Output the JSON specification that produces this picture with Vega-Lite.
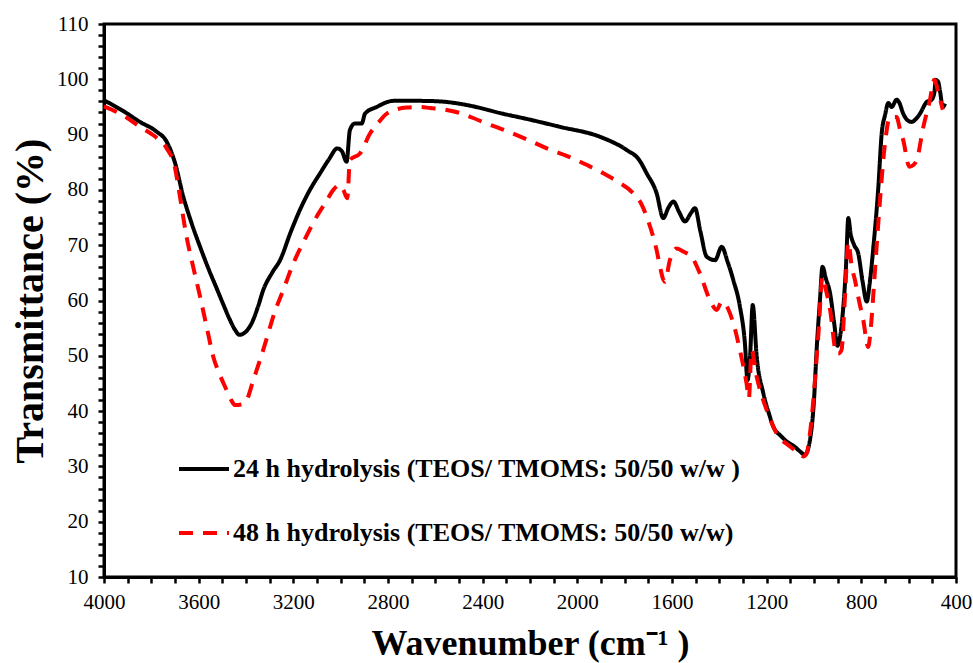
{
  "$schema": "https://vega.github.io/schema/vega-lite/v6.json",
  "width": 852,
  "height": 553,
  "autosize": {"type": "none"},
  "padding": {"left": 104, "top": 24, "right": 17, "bottom": 86},
  "background": "white",
  "config": {
    "font": "Liberation Serif",
    "view": {"stroke": "black", "strokeWidth": 3},
    "legend": {"labelFont": "Liberation Serif", "titleFont": "Liberation Serif"},
    "axis": {"grid": false, "domainColor": "black", "domainWidth": 3, "tickColor": "black", "tickWidth": 2.5, "tickSize": 6, "labelColor": "black", "labelFont": "Liberation Serif", "labelFontSize": 21, "titleFont": "Liberation Serif", "titleFontWeight": "bold", "titleColor": "black", "labelOverlap": false, "labelFlush": false}
  },
  "data": {"values": [
    {"wn": 4000, "t": 96.2, "s": "24 h hydrolysis (TEOS/ TMOMS: 50/50 w/w )"},
    {"wn": 3920, "t": 94.3, "s": "24 h hydrolysis (TEOS/ TMOMS: 50/50 w/w )"},
    {"wn": 3848, "t": 92.3, "s": "24 h hydrolysis (TEOS/ TMOMS: 50/50 w/w )"},
    {"wn": 3780, "t": 90.6, "s": "24 h hydrolysis (TEOS/ TMOMS: 50/50 w/w )"},
    {"wn": 3735, "t": 88.7, "s": "24 h hydrolysis (TEOS/ TMOMS: 50/50 w/w )"},
    {"wn": 3700, "t": 84.9, "s": "24 h hydrolysis (TEOS/ TMOMS: 50/50 w/w )"},
    {"wn": 3665, "t": 78.8, "s": "24 h hydrolysis (TEOS/ TMOMS: 50/50 w/w )"},
    {"wn": 3630, "t": 74.0, "s": "24 h hydrolysis (TEOS/ TMOMS: 50/50 w/w )"},
    {"wn": 3594, "t": 69.7, "s": "24 h hydrolysis (TEOS/ TMOMS: 50/50 w/w )"},
    {"wn": 3560, "t": 65.9, "s": "24 h hydrolysis (TEOS/ TMOMS: 50/50 w/w )"},
    {"wn": 3524, "t": 62.2, "s": "24 h hydrolysis (TEOS/ TMOMS: 50/50 w/w )"},
    {"wn": 3495, "t": 59.2, "s": "24 h hydrolysis (TEOS/ TMOMS: 50/50 w/w )"},
    {"wn": 3468, "t": 56.5, "s": "24 h hydrolysis (TEOS/ TMOMS: 50/50 w/w )"},
    {"wn": 3445, "t": 54.6, "s": "24 h hydrolysis (TEOS/ TMOMS: 50/50 w/w )"},
    {"wn": 3428, "t": 53.8, "s": "24 h hydrolysis (TEOS/ TMOMS: 50/50 w/w )"},
    {"wn": 3405, "t": 54.2, "s": "24 h hydrolysis (TEOS/ TMOMS: 50/50 w/w )"},
    {"wn": 3376, "t": 55.9, "s": "24 h hydrolysis (TEOS/ TMOMS: 50/50 w/w )"},
    {"wn": 3350, "t": 58.8, "s": "24 h hydrolysis (TEOS/ TMOMS: 50/50 w/w )"},
    {"wn": 3327, "t": 61.9, "s": "24 h hydrolysis (TEOS/ TMOMS: 50/50 w/w )"},
    {"wn": 3290, "t": 65.0, "s": "24 h hydrolysis (TEOS/ TMOMS: 50/50 w/w )"},
    {"wn": 3256, "t": 67.3, "s": "24 h hydrolysis (TEOS/ TMOMS: 50/50 w/w )"},
    {"wn": 3210, "t": 72.5, "s": "24 h hydrolysis (TEOS/ TMOMS: 50/50 w/w )"},
    {"wn": 3172, "t": 76.4, "s": "24 h hydrolysis (TEOS/ TMOMS: 50/50 w/w )"},
    {"wn": 3130, "t": 80.0, "s": "24 h hydrolysis (TEOS/ TMOMS: 50/50 w/w )"},
    {"wn": 3087, "t": 83.0, "s": "24 h hydrolysis (TEOS/ TMOMS: 50/50 w/w )"},
    {"wn": 3050, "t": 85.5, "s": "24 h hydrolysis (TEOS/ TMOMS: 50/50 w/w )"},
    {"wn": 3014, "t": 87.5, "s": "24 h hydrolysis (TEOS/ TMOMS: 50/50 w/w )"},
    {"wn": 2995, "t": 87.0, "s": "24 h hydrolysis (TEOS/ TMOMS: 50/50 w/w )"},
    {"wn": 2975, "t": 85.1, "s": "24 h hydrolysis (TEOS/ TMOMS: 50/50 w/w )"},
    {"wn": 2961, "t": 90.8, "s": "24 h hydrolysis (TEOS/ TMOMS: 50/50 w/w )"},
    {"wn": 2940, "t": 92.0, "s": "24 h hydrolysis (TEOS/ TMOMS: 50/50 w/w )"},
    {"wn": 2911, "t": 92.0, "s": "24 h hydrolysis (TEOS/ TMOMS: 50/50 w/w )"},
    {"wn": 2897, "t": 93.8, "s": "24 h hydrolysis (TEOS/ TMOMS: 50/50 w/w )"},
    {"wn": 2848, "t": 95.0, "s": "24 h hydrolysis (TEOS/ TMOMS: 50/50 w/w )"},
    {"wn": 2778, "t": 96.1, "s": "24 h hydrolysis (TEOS/ TMOMS: 50/50 w/w )"},
    {"wn": 2665, "t": 96.1, "s": "24 h hydrolysis (TEOS/ TMOMS: 50/50 w/w )"},
    {"wn": 2580, "t": 96.0, "s": "24 h hydrolysis (TEOS/ TMOMS: 50/50 w/w )"},
    {"wn": 2450, "t": 95.2, "s": "24 h hydrolysis (TEOS/ TMOMS: 50/50 w/w )"},
    {"wn": 2327, "t": 93.9, "s": "24 h hydrolysis (TEOS/ TMOMS: 50/50 w/w )"},
    {"wn": 2200, "t": 92.7, "s": "24 h hydrolysis (TEOS/ TMOMS: 50/50 w/w )"},
    {"wn": 2073, "t": 91.4, "s": "24 h hydrolysis (TEOS/ TMOMS: 50/50 w/w )"},
    {"wn": 1904, "t": 89.6, "s": "24 h hydrolysis (TEOS/ TMOMS: 50/50 w/w )"},
    {"wn": 1791, "t": 87.2, "s": "24 h hydrolysis (TEOS/ TMOMS: 50/50 w/w )"},
    {"wn": 1740, "t": 85.5, "s": "24 h hydrolysis (TEOS/ TMOMS: 50/50 w/w )"},
    {"wn": 1707, "t": 83.0, "s": "24 h hydrolysis (TEOS/ TMOMS: 50/50 w/w )"},
    {"wn": 1665, "t": 79.4, "s": "24 h hydrolysis (TEOS/ TMOMS: 50/50 w/w )"},
    {"wn": 1637, "t": 74.9, "s": "24 h hydrolysis (TEOS/ TMOMS: 50/50 w/w )"},
    {"wn": 1615, "t": 76.8, "s": "24 h hydrolysis (TEOS/ TMOMS: 50/50 w/w )"},
    {"wn": 1594, "t": 77.9, "s": "24 h hydrolysis (TEOS/ TMOMS: 50/50 w/w )"},
    {"wn": 1570, "t": 76.0, "s": "24 h hydrolysis (TEOS/ TMOMS: 50/50 w/w )"},
    {"wn": 1545, "t": 74.3, "s": "24 h hydrolysis (TEOS/ TMOMS: 50/50 w/w )"},
    {"wn": 1520, "t": 75.8, "s": "24 h hydrolysis (TEOS/ TMOMS: 50/50 w/w )"},
    {"wn": 1503, "t": 76.7, "s": "24 h hydrolysis (TEOS/ TMOMS: 50/50 w/w )"},
    {"wn": 1480, "t": 72.5, "s": "24 h hydrolysis (TEOS/ TMOMS: 50/50 w/w )"},
    {"wn": 1453, "t": 67.9, "s": "24 h hydrolysis (TEOS/ TMOMS: 50/50 w/w )"},
    {"wn": 1418, "t": 67.3, "s": "24 h hydrolysis (TEOS/ TMOMS: 50/50 w/w )"},
    {"wn": 1390, "t": 69.7, "s": "24 h hydrolysis (TEOS/ TMOMS: 50/50 w/w )"},
    {"wn": 1365, "t": 67.0, "s": "24 h hydrolysis (TEOS/ TMOMS: 50/50 w/w )"},
    {"wn": 1341, "t": 63.7, "s": "24 h hydrolysis (TEOS/ TMOMS: 50/50 w/w )"},
    {"wn": 1313, "t": 58.9, "s": "24 h hydrolysis (TEOS/ TMOMS: 50/50 w/w )"},
    {"wn": 1292, "t": 52.3, "s": "24 h hydrolysis (TEOS/ TMOMS: 50/50 w/w )"},
    {"wn": 1281, "t": 45.6, "s": "24 h hydrolysis (TEOS/ TMOMS: 50/50 w/w )"},
    {"wn": 1270, "t": 50.0, "s": "24 h hydrolysis (TEOS/ TMOMS: 50/50 w/w )"},
    {"wn": 1259, "t": 59.2, "s": "24 h hydrolysis (TEOS/ TMOMS: 50/50 w/w )"},
    {"wn": 1242, "t": 49.8, "s": "24 h hydrolysis (TEOS/ TMOMS: 50/50 w/w )"},
    {"wn": 1214, "t": 43.2, "s": "24 h hydrolysis (TEOS/ TMOMS: 50/50 w/w )"},
    {"wn": 1190, "t": 39.5, "s": "24 h hydrolysis (TEOS/ TMOMS: 50/50 w/w )"},
    {"wn": 1172, "t": 37.2, "s": "24 h hydrolysis (TEOS/ TMOMS: 50/50 w/w )"},
    {"wn": 1140, "t": 35.5, "s": "24 h hydrolysis (TEOS/ TMOMS: 50/50 w/w )"},
    {"wn": 1115, "t": 34.5, "s": "24 h hydrolysis (TEOS/ TMOMS: 50/50 w/w )"},
    {"wn": 1080, "t": 33.5, "s": "24 h hydrolysis (TEOS/ TMOMS: 50/50 w/w )"},
    {"wn": 1059, "t": 32.7, "s": "24 h hydrolysis (TEOS/ TMOMS: 50/50 w/w )"},
    {"wn": 1038, "t": 32.1, "s": "24 h hydrolysis (TEOS/ TMOMS: 50/50 w/w )"},
    {"wn": 1017, "t": 34.8, "s": "24 h hydrolysis (TEOS/ TMOMS: 50/50 w/w )"},
    {"wn": 1000, "t": 42.0, "s": "24 h hydrolysis (TEOS/ TMOMS: 50/50 w/w )"},
    {"wn": 989, "t": 51.0, "s": "24 h hydrolysis (TEOS/ TMOMS: 50/50 w/w )"},
    {"wn": 975, "t": 60.0, "s": "24 h hydrolysis (TEOS/ TMOMS: 50/50 w/w )"},
    {"wn": 964, "t": 66.1, "s": "24 h hydrolysis (TEOS/ TMOMS: 50/50 w/w )"},
    {"wn": 950, "t": 64.0, "s": "24 h hydrolysis (TEOS/ TMOMS: 50/50 w/w )"},
    {"wn": 932, "t": 61.3, "s": "24 h hydrolysis (TEOS/ TMOMS: 50/50 w/w )"},
    {"wn": 915, "t": 56.0, "s": "24 h hydrolysis (TEOS/ TMOMS: 50/50 w/w )"},
    {"wn": 901, "t": 51.8, "s": "24 h hydrolysis (TEOS/ TMOMS: 50/50 w/w )"},
    {"wn": 888, "t": 54.0, "s": "24 h hydrolysis (TEOS/ TMOMS: 50/50 w/w )"},
    {"wn": 876, "t": 58.9, "s": "24 h hydrolysis (TEOS/ TMOMS: 50/50 w/w )"},
    {"wn": 865, "t": 66.0, "s": "24 h hydrolysis (TEOS/ TMOMS: 50/50 w/w )"},
    {"wn": 855, "t": 74.9, "s": "24 h hydrolysis (TEOS/ TMOMS: 50/50 w/w )"},
    {"wn": 845, "t": 72.0, "s": "24 h hydrolysis (TEOS/ TMOMS: 50/50 w/w )"},
    {"wn": 830, "t": 70.0, "s": "24 h hydrolysis (TEOS/ TMOMS: 50/50 w/w )"},
    {"wn": 813, "t": 68.5, "s": "24 h hydrolysis (TEOS/ TMOMS: 50/50 w/w )"},
    {"wn": 795, "t": 63.5, "s": "24 h hydrolysis (TEOS/ TMOMS: 50/50 w/w )"},
    {"wn": 777, "t": 59.8, "s": "24 h hydrolysis (TEOS/ TMOMS: 50/50 w/w )"},
    {"wn": 765, "t": 63.0, "s": "24 h hydrolysis (TEOS/ TMOMS: 50/50 w/w )"},
    {"wn": 749, "t": 69.7, "s": "24 h hydrolysis (TEOS/ TMOMS: 50/50 w/w )"},
    {"wn": 728, "t": 80.6, "s": "24 h hydrolysis (TEOS/ TMOMS: 50/50 w/w )"},
    {"wn": 714, "t": 90.2, "s": "24 h hydrolysis (TEOS/ TMOMS: 50/50 w/w )"},
    {"wn": 700, "t": 93.5, "s": "24 h hydrolysis (TEOS/ TMOMS: 50/50 w/w )"},
    {"wn": 686, "t": 95.7, "s": "24 h hydrolysis (TEOS/ TMOMS: 50/50 w/w )"},
    {"wn": 672, "t": 95.0, "s": "24 h hydrolysis (TEOS/ TMOMS: 50/50 w/w )"},
    {"wn": 651, "t": 96.3, "s": "24 h hydrolysis (TEOS/ TMOMS: 50/50 w/w )"},
    {"wn": 640, "t": 95.8, "s": "24 h hydrolysis (TEOS/ TMOMS: 50/50 w/w )"},
    {"wn": 623, "t": 93.8, "s": "24 h hydrolysis (TEOS/ TMOMS: 50/50 w/w )"},
    {"wn": 605, "t": 92.6, "s": "24 h hydrolysis (TEOS/ TMOMS: 50/50 w/w )"},
    {"wn": 587, "t": 92.3, "s": "24 h hydrolysis (TEOS/ TMOMS: 50/50 w/w )"},
    {"wn": 570, "t": 92.8, "s": "24 h hydrolysis (TEOS/ TMOMS: 50/50 w/w )"},
    {"wn": 552, "t": 93.8, "s": "24 h hydrolysis (TEOS/ TMOMS: 50/50 w/w )"},
    {"wn": 524, "t": 95.9, "s": "24 h hydrolysis (TEOS/ TMOMS: 50/50 w/w )"},
    {"wn": 503, "t": 96.3, "s": "24 h hydrolysis (TEOS/ TMOMS: 50/50 w/w )"},
    {"wn": 492, "t": 97.5, "s": "24 h hydrolysis (TEOS/ TMOMS: 50/50 w/w )"},
    {"wn": 485, "t": 99.9, "s": "24 h hydrolysis (TEOS/ TMOMS: 50/50 w/w )"},
    {"wn": 475, "t": 99.5, "s": "24 h hydrolysis (TEOS/ TMOMS: 50/50 w/w )"},
    {"wn": 468, "t": 98.0, "s": "24 h hydrolysis (TEOS/ TMOMS: 50/50 w/w )"},
    {"wn": 456, "t": 95.0, "s": "24 h hydrolysis (TEOS/ TMOMS: 50/50 w/w )"},
    {"wn": 446, "t": 95.6, "s": "24 h hydrolysis (TEOS/ TMOMS: 50/50 w/w )"},
    {"wn": 4000, "t": 95.1, "s": "48 h hydrolysis (TEOS/ TMOMS: 50/50 w/w)"},
    {"wn": 3920, "t": 93.5, "s": "48 h hydrolysis (TEOS/ TMOMS: 50/50 w/w)"},
    {"wn": 3848, "t": 91.4, "s": "48 h hydrolysis (TEOS/ TMOMS: 50/50 w/w)"},
    {"wn": 3780, "t": 89.5, "s": "48 h hydrolysis (TEOS/ TMOMS: 50/50 w/w)"},
    {"wn": 3735, "t": 87.5, "s": "48 h hydrolysis (TEOS/ TMOMS: 50/50 w/w)"},
    {"wn": 3700, "t": 84.0, "s": "48 h hydrolysis (TEOS/ TMOMS: 50/50 w/w)"},
    {"wn": 3686, "t": 80.6, "s": "48 h hydrolysis (TEOS/ TMOMS: 50/50 w/w)"},
    {"wn": 3651, "t": 71.5, "s": "48 h hydrolysis (TEOS/ TMOMS: 50/50 w/w)"},
    {"wn": 3620, "t": 65.5, "s": "48 h hydrolysis (TEOS/ TMOMS: 50/50 w/w)"},
    {"wn": 3594, "t": 60.7, "s": "48 h hydrolysis (TEOS/ TMOMS: 50/50 w/w)"},
    {"wn": 3565, "t": 55.0, "s": "48 h hydrolysis (TEOS/ TMOMS: 50/50 w/w)"},
    {"wn": 3538, "t": 49.8, "s": "48 h hydrolysis (TEOS/ TMOMS: 50/50 w/w)"},
    {"wn": 3510, "t": 46.5, "s": "48 h hydrolysis (TEOS/ TMOMS: 50/50 w/w)"},
    {"wn": 3482, "t": 43.8, "s": "48 h hydrolysis (TEOS/ TMOMS: 50/50 w/w)"},
    {"wn": 3460, "t": 41.8, "s": "48 h hydrolysis (TEOS/ TMOMS: 50/50 w/w)"},
    {"wn": 3446, "t": 41.1, "s": "48 h hydrolysis (TEOS/ TMOMS: 50/50 w/w)"},
    {"wn": 3420, "t": 41.2, "s": "48 h hydrolysis (TEOS/ TMOMS: 50/50 w/w)"},
    {"wn": 3397, "t": 42.0, "s": "48 h hydrolysis (TEOS/ TMOMS: 50/50 w/w)"},
    {"wn": 3370, "t": 45.5, "s": "48 h hydrolysis (TEOS/ TMOMS: 50/50 w/w)"},
    {"wn": 3341, "t": 49.2, "s": "48 h hydrolysis (TEOS/ TMOMS: 50/50 w/w)"},
    {"wn": 3310, "t": 53.5, "s": "48 h hydrolysis (TEOS/ TMOMS: 50/50 w/w)"},
    {"wn": 3285, "t": 57.1, "s": "48 h hydrolysis (TEOS/ TMOMS: 50/50 w/w)"},
    {"wn": 3240, "t": 62.2, "s": "48 h hydrolysis (TEOS/ TMOMS: 50/50 w/w)"},
    {"wn": 3200, "t": 66.7, "s": "48 h hydrolysis (TEOS/ TMOMS: 50/50 w/w)"},
    {"wn": 3150, "t": 71.2, "s": "48 h hydrolysis (TEOS/ TMOMS: 50/50 w/w)"},
    {"wn": 3101, "t": 75.2, "s": "48 h hydrolysis (TEOS/ TMOMS: 50/50 w/w)"},
    {"wn": 3060, "t": 78.0, "s": "48 h hydrolysis (TEOS/ TMOMS: 50/50 w/w)"},
    {"wn": 3031, "t": 80.0, "s": "48 h hydrolysis (TEOS/ TMOMS: 50/50 w/w)"},
    {"wn": 3006, "t": 80.9, "s": "48 h hydrolysis (TEOS/ TMOMS: 50/50 w/w)"},
    {"wn": 2989, "t": 80.0, "s": "48 h hydrolysis (TEOS/ TMOMS: 50/50 w/w)"},
    {"wn": 2972, "t": 78.5, "s": "48 h hydrolysis (TEOS/ TMOMS: 50/50 w/w)"},
    {"wn": 2961, "t": 85.4, "s": "48 h hydrolysis (TEOS/ TMOMS: 50/50 w/w)"},
    {"wn": 2918, "t": 86.6, "s": "48 h hydrolysis (TEOS/ TMOMS: 50/50 w/w)"},
    {"wn": 2876, "t": 90.2, "s": "48 h hydrolysis (TEOS/ TMOMS: 50/50 w/w)"},
    {"wn": 2840, "t": 92.2, "s": "48 h hydrolysis (TEOS/ TMOMS: 50/50 w/w)"},
    {"wn": 2805, "t": 93.8, "s": "48 h hydrolysis (TEOS/ TMOMS: 50/50 w/w)"},
    {"wn": 2721, "t": 94.9, "s": "48 h hydrolysis (TEOS/ TMOMS: 50/50 w/w)"},
    {"wn": 2665, "t": 95.0, "s": "48 h hydrolysis (TEOS/ TMOMS: 50/50 w/w)"},
    {"wn": 2622, "t": 94.8, "s": "48 h hydrolysis (TEOS/ TMOMS: 50/50 w/w)"},
    {"wn": 2560, "t": 94.5, "s": "48 h hydrolysis (TEOS/ TMOMS: 50/50 w/w)"},
    {"wn": 2496, "t": 93.9, "s": "48 h hydrolysis (TEOS/ TMOMS: 50/50 w/w)"},
    {"wn": 2440, "t": 93.0, "s": "48 h hydrolysis (TEOS/ TMOMS: 50/50 w/w)"},
    {"wn": 2383, "t": 92.0, "s": "48 h hydrolysis (TEOS/ TMOMS: 50/50 w/w)"},
    {"wn": 2320, "t": 91.0, "s": "48 h hydrolysis (TEOS/ TMOMS: 50/50 w/w)"},
    {"wn": 2256, "t": 89.9, "s": "48 h hydrolysis (TEOS/ TMOMS: 50/50 w/w)"},
    {"wn": 2190, "t": 88.7, "s": "48 h hydrolysis (TEOS/ TMOMS: 50/50 w/w)"},
    {"wn": 2129, "t": 87.5, "s": "48 h hydrolysis (TEOS/ TMOMS: 50/50 w/w)"},
    {"wn": 2060, "t": 86.4, "s": "48 h hydrolysis (TEOS/ TMOMS: 50/50 w/w)"},
    {"wn": 2003, "t": 85.4, "s": "48 h hydrolysis (TEOS/ TMOMS: 50/50 w/w)"},
    {"wn": 1950, "t": 84.3, "s": "48 h hydrolysis (TEOS/ TMOMS: 50/50 w/w)"},
    {"wn": 1890, "t": 83.0, "s": "48 h hydrolysis (TEOS/ TMOMS: 50/50 w/w)"},
    {"wn": 1830, "t": 81.5, "s": "48 h hydrolysis (TEOS/ TMOMS: 50/50 w/w)"},
    {"wn": 1764, "t": 79.4, "s": "48 h hydrolysis (TEOS/ TMOMS: 50/50 w/w)"},
    {"wn": 1730, "t": 77.5, "s": "48 h hydrolysis (TEOS/ TMOMS: 50/50 w/w)"},
    {"wn": 1700, "t": 74.3, "s": "48 h hydrolysis (TEOS/ TMOMS: 50/50 w/w)"},
    {"wn": 1665, "t": 69.1, "s": "48 h hydrolysis (TEOS/ TMOMS: 50/50 w/w)"},
    {"wn": 1650, "t": 66.0, "s": "48 h hydrolysis (TEOS/ TMOMS: 50/50 w/w)"},
    {"wn": 1637, "t": 63.8, "s": "48 h hydrolysis (TEOS/ TMOMS: 50/50 w/w)"},
    {"wn": 1630, "t": 63.4, "s": "48 h hydrolysis (TEOS/ TMOMS: 50/50 w/w)"},
    {"wn": 1609, "t": 67.3, "s": "48 h hydrolysis (TEOS/ TMOMS: 50/50 w/w)"},
    {"wn": 1580, "t": 69.4, "s": "48 h hydrolysis (TEOS/ TMOMS: 50/50 w/w)"},
    {"wn": 1550, "t": 68.8, "s": "48 h hydrolysis (TEOS/ TMOMS: 50/50 w/w)"},
    {"wn": 1517, "t": 67.9, "s": "48 h hydrolysis (TEOS/ TMOMS: 50/50 w/w)"},
    {"wn": 1482, "t": 64.9, "s": "48 h hydrolysis (TEOS/ TMOMS: 50/50 w/w)"},
    {"wn": 1440, "t": 60.1, "s": "48 h hydrolysis (TEOS/ TMOMS: 50/50 w/w)"},
    {"wn": 1411, "t": 58.3, "s": "48 h hydrolysis (TEOS/ TMOMS: 50/50 w/w)"},
    {"wn": 1390, "t": 59.8, "s": "48 h hydrolysis (TEOS/ TMOMS: 50/50 w/w)"},
    {"wn": 1341, "t": 55.9, "s": "48 h hydrolysis (TEOS/ TMOMS: 50/50 w/w)"},
    {"wn": 1313, "t": 51.0, "s": "48 h hydrolysis (TEOS/ TMOMS: 50/50 w/w)"},
    {"wn": 1285, "t": 45.0, "s": "48 h hydrolysis (TEOS/ TMOMS: 50/50 w/w)"},
    {"wn": 1275, "t": 42.3, "s": "48 h hydrolysis (TEOS/ TMOMS: 50/50 w/w)"},
    {"wn": 1264, "t": 51.0, "s": "48 h hydrolysis (TEOS/ TMOMS: 50/50 w/w)"},
    {"wn": 1242, "t": 46.2, "s": "48 h hydrolysis (TEOS/ TMOMS: 50/50 w/w)"},
    {"wn": 1200, "t": 40.2, "s": "48 h hydrolysis (TEOS/ TMOMS: 50/50 w/w)"},
    {"wn": 1158, "t": 36.0, "s": "48 h hydrolysis (TEOS/ TMOMS: 50/50 w/w)"},
    {"wn": 1101, "t": 33.6, "s": "48 h hydrolysis (TEOS/ TMOMS: 50/50 w/w)"},
    {"wn": 1070, "t": 32.6, "s": "48 h hydrolysis (TEOS/ TMOMS: 50/50 w/w)"},
    {"wn": 1045, "t": 31.8, "s": "48 h hydrolysis (TEOS/ TMOMS: 50/50 w/w)"},
    {"wn": 1030, "t": 32.5, "s": "48 h hydrolysis (TEOS/ TMOMS: 50/50 w/w)"},
    {"wn": 1017, "t": 36.0, "s": "48 h hydrolysis (TEOS/ TMOMS: 50/50 w/w)"},
    {"wn": 982, "t": 53.5, "s": "48 h hydrolysis (TEOS/ TMOMS: 50/50 w/w)"},
    {"wn": 964, "t": 64.3, "s": "48 h hydrolysis (TEOS/ TMOMS: 50/50 w/w)"},
    {"wn": 950, "t": 62.0, "s": "48 h hydrolysis (TEOS/ TMOMS: 50/50 w/w)"},
    {"wn": 932, "t": 58.3, "s": "48 h hydrolysis (TEOS/ TMOMS: 50/50 w/w)"},
    {"wn": 905, "t": 50.4, "s": "48 h hydrolysis (TEOS/ TMOMS: 50/50 w/w)"},
    {"wn": 897, "t": 50.4, "s": "48 h hydrolysis (TEOS/ TMOMS: 50/50 w/w)"},
    {"wn": 884, "t": 51.0, "s": "48 h hydrolysis (TEOS/ TMOMS: 50/50 w/w)"},
    {"wn": 870, "t": 60.0, "s": "48 h hydrolysis (TEOS/ TMOMS: 50/50 w/w)"},
    {"wn": 855, "t": 70.5, "s": "48 h hydrolysis (TEOS/ TMOMS: 50/50 w/w)"},
    {"wn": 840, "t": 66.0, "s": "48 h hydrolysis (TEOS/ TMOMS: 50/50 w/w)"},
    {"wn": 827, "t": 63.7, "s": "48 h hydrolysis (TEOS/ TMOMS: 50/50 w/w)"},
    {"wn": 810, "t": 60.0, "s": "48 h hydrolysis (TEOS/ TMOMS: 50/50 w/w)"},
    {"wn": 792, "t": 56.5, "s": "48 h hydrolysis (TEOS/ TMOMS: 50/50 w/w)"},
    {"wn": 771, "t": 51.6, "s": "48 h hydrolysis (TEOS/ TMOMS: 50/50 w/w)"},
    {"wn": 760, "t": 55.0, "s": "48 h hydrolysis (TEOS/ TMOMS: 50/50 w/w)"},
    {"wn": 749, "t": 61.3, "s": "48 h hydrolysis (TEOS/ TMOMS: 50/50 w/w)"},
    {"wn": 735, "t": 70.0, "s": "48 h hydrolysis (TEOS/ TMOMS: 50/50 w/w)"},
    {"wn": 721, "t": 78.2, "s": "48 h hydrolysis (TEOS/ TMOMS: 50/50 w/w)"},
    {"wn": 700, "t": 88.4, "s": "48 h hydrolysis (TEOS/ TMOMS: 50/50 w/w)"},
    {"wn": 679, "t": 93.2, "s": "48 h hydrolysis (TEOS/ TMOMS: 50/50 w/w)"},
    {"wn": 651, "t": 93.2, "s": "48 h hydrolysis (TEOS/ TMOMS: 50/50 w/w)"},
    {"wn": 637, "t": 91.0, "s": "48 h hydrolysis (TEOS/ TMOMS: 50/50 w/w)"},
    {"wn": 623, "t": 89.0, "s": "48 h hydrolysis (TEOS/ TMOMS: 50/50 w/w)"},
    {"wn": 597, "t": 84.2, "s": "48 h hydrolysis (TEOS/ TMOMS: 50/50 w/w)"},
    {"wn": 580, "t": 84.5, "s": "48 h hydrolysis (TEOS/ TMOMS: 50/50 w/w)"},
    {"wn": 566, "t": 85.4, "s": "48 h hydrolysis (TEOS/ TMOMS: 50/50 w/w)"},
    {"wn": 538, "t": 91.4, "s": "48 h hydrolysis (TEOS/ TMOMS: 50/50 w/w)"},
    {"wn": 510, "t": 96.3, "s": "48 h hydrolysis (TEOS/ TMOMS: 50/50 w/w)"},
    {"wn": 492, "t": 99.9, "s": "48 h hydrolysis (TEOS/ TMOMS: 50/50 w/w)"},
    {"wn": 474, "t": 97.5, "s": "48 h hydrolysis (TEOS/ TMOMS: 50/50 w/w)"},
    {"wn": 456, "t": 94.5, "s": "48 h hydrolysis (TEOS/ TMOMS: 50/50 w/w)"}
  ]},
  "mark": {"type": "line", "strokeWidth": 4, "interpolate": "monotone", "strokeCap": "butt"},
  "encoding": {
    "x": {
      "field": "wn", "type": "quantitative",
      "scale": {"domain": [400, 4000], "reverse": true, "nice": false, "zero": false},
      "axis": {
        "title": "Wavenumber (cm⁻¹ )",
        "titleFontSize": 36,
        "titlePadding": 14,
        "format": "d",
        "values": [400,500,600,700,800,900,1000,1100,1200,1300,1400,1500,1600,1700,1800,1900,2000,2100,2200,2300,2400,2500,2600,2700,2800,2900,3000,3100,3200,3300,3400,3500,3600,3700,3800,3900,4000],
        "labelExpr": "datum.value % 400 === 0 ? datum.label : ''",
        "labelPadding": 8,
        "encode": {"ticks": {"update": {"y": {"signal": "datum.value % 400 === 0 ? -6 : 0"}}}}
      }
    },
    "y": {
      "field": "t", "type": "quantitative",
      "scale": {"domain": [10, 110], "nice": false, "zero": false},
      "axis": {
        "title": "Transmittance (%)",
        "titleFontSize": 40,
        "titlePadding": 6,
        "values": [10,12,14,16,18,20,22,24,26,28,30,32,34,36,38,40,42,44,46,48,50,52,54,56,58,60,62,64,66,68,70,72,74,76,78,80,82,84,86,88,90,92,94,96,98,100,102,104,106,108,110],
        "labelExpr": "datum.value % 10 === 0 ? datum.label : ''",
        "labelPadding": 10,
        "encode": {"ticks": {"update": {"x": {"signal": "datum.value % 10 === 0 ? 6 : 0"}}}}
      }
    },
    "color": {
      "field": "s", "type": "nominal",
      "scale": {"domain": ["24 h hydrolysis (TEOS/ TMOMS: 50/50 w/w )", "48 h hydrolysis (TEOS/ TMOMS: 50/50 w/w)"], "range": ["#000000", "#ff0000"]},
      "legend": {"orient": "none", "legendX": 73, "legendY": 418, "title": null, "symbolType": "stroke", "symbolSize": 2500, "symbolStrokeWidth": 4, "labelFont": "Liberation Serif", "labelFontSize": 26, "labelFontWeight": "bold", "labelColor": "black", "labelLimit": 0, "labelOffset": 2, "rowPadding": 24}
    },
    "strokeDash": {
      "field": "s", "type": "nominal",
      "scale": {"domain": ["24 h hydrolysis (TEOS/ TMOMS: 50/50 w/w )", "48 h hydrolysis (TEOS/ TMOMS: 50/50 w/w)"], "range": [[1, 0], [14, 10]]},
      "legend": {"orient": "none", "legendX": 73, "legendY": 418, "title": null, "symbolType": "stroke", "symbolSize": 2500, "symbolStrokeWidth": 4, "labelFont": "Liberation Serif", "labelFontSize": 26, "labelFontWeight": "bold", "labelColor": "black", "labelLimit": 0, "labelOffset": 2, "rowPadding": 24}
    }
  }
}
